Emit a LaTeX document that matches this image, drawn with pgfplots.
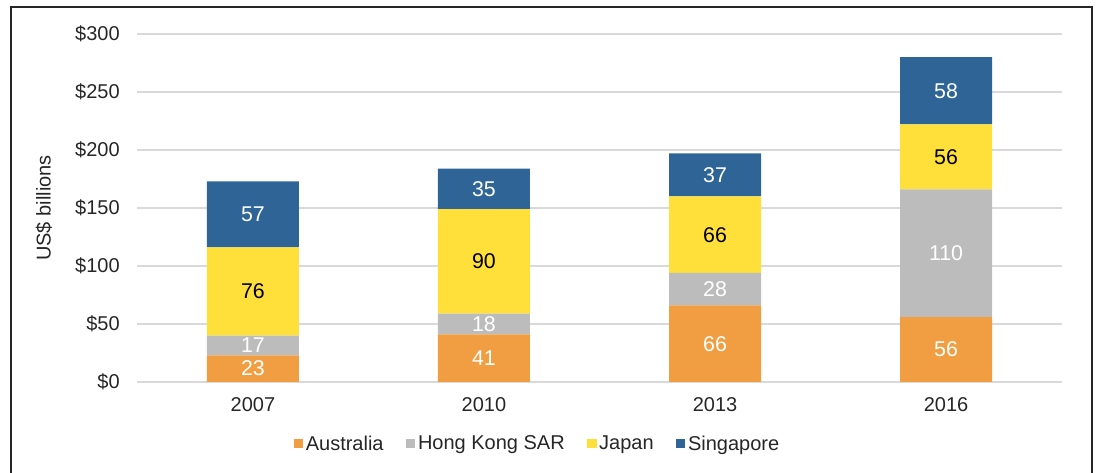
\documentclass[border=0pt]{standalone}
\usepackage{fontspec}
\setmainfont{Liberation Sans}
\usepackage{pgfplots}
\usepackage{pgfplotstable}
\pgfplotsset{compat=1.18}

\definecolor{cAus}{RGB}{240,158,65}
\definecolor{cHK}{RGB}{188,188,188}
\definecolor{cJp}{RGB}{255,224,58}
\definecolor{cSg}{RGB}{46,101,150}
\definecolor{txt}{RGB}{38,38,38}

\pgfplotstableread{
x au hk jp sg
0 23 17 76 57
1 41 18 90 35
2 66 28 66 37
3 56 110 56 58
}\data

\begin{document}
\begin{tikzpicture}
\useasboundingbox (-102.75pt,-68.25pt) rectangle (720.75pt,286.5pt);
\draw[line width=1.3pt, black!85] (-94.5pt,-68.25pt) -- (-94.5pt,281.25pt) -- (716.25pt,281.25pt) -- (716.25pt,-68.25pt);
\begin{axis}[
    at={(0,0)}, anchor=south west,
    scale only axis,
    width=693.75pt, height=261pt,
    ybar stacked, bar width=69pt,
    xmin=-0.502, xmax=3.502, ymin=0, ymax=300,
    xtick={0,1,2,3}, xticklabels={2007,2010,2013,2016},
    ytick={0,50,...,300},
    /pgf/number format/assume math mode=true,
    yticklabel={\$\pgfmathprintnumber{\tick}},
    ymajorgrids,
    grid style={color=black!15, line width=1pt},
    axis line style={draw=none},
    tick style={draw=none},
    font=\fontsize{15pt}{18pt}\selectfont,
    yticklabel style={anchor=east, inner sep=0pt, xshift=-12.75pt, text=txt},
    xticklabel style={anchor=north, inner sep=0pt, yshift=-11.25pt, text=txt},
    ylabel={US\$ billions},
    ylabel style={at={(axis description cs:-0.1005,0.5)}, anchor=center, text=txt},
    legend columns=-1,
    legend style={at={(axis description cs:0.4335,-0.178)}, anchor=center,
        draw=none, fill=none, text=txt, font=\fontsize{15pt}{18pt}\selectfont,
        /tikz/every even column/.append style={column sep=15pt},
        inner sep=0pt},
    legend image code/.code={\fill[#1] (0pt,-3.4pt) rectangle (6.8pt,3.4pt);},
    point meta=explicit,
    nodes near coords={\pgfmathprintnumber{\pgfplotspointmeta}},
    every node near coord/.append style={anchor=center,
        font=\fontsize{16pt}{19pt}\selectfont, inner sep=0pt},
]
\addplot[fill=cAus, draw=none, every node near coord/.append style={text=white}]
    table[x=x, y=au, meta=au] {\data};
\addlegendentry{Australia}
\addplot[fill=cHK, draw=none, every node near coord/.append style={text=white}]
    table[x=x, y=hk, meta=hk] {\data};
\addlegendentry{Hong Kong SAR}
\addplot[fill=cJp, draw=none, every node near coord/.append style={text=black}]
    table[x=x, y=jp, meta=jp] {\data};
\addlegendentry{Japan}
\addplot[fill=cSg, draw=none, every node near coord/.append style={text=white}]
    table[x=x, y=sg, meta=sg] {\data};
\addlegendentry{Singapore}
\end{axis}
\end{tikzpicture}
\end{document}
